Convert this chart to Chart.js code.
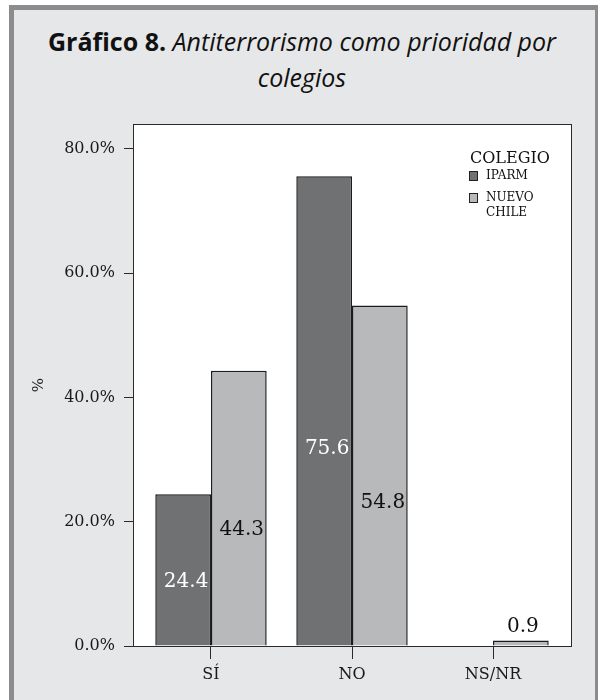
<!DOCTYPE html>
<html>
<head>
<meta charset="utf-8">
<script src="https://cdn.jsdelivr.net/npm/chart.js@4.4.1/dist/chart.umd.min.js"></script>
<style>
  body { margin: 0; background: #fff; }
  #frame {
    position: absolute; left: 9px; top: 5px; width: 591px; height: 700px;
    box-sizing: border-box; border: 5px solid #8c8c8e; background: #e6e7e8;
  }
  #title {
    position: absolute; left: 0; top: 23px; width: 604px; text-align: center;
    font-family: "Open Sans", sans-serif; font-size: 25px; line-height: 36px; color: #111;
  }
  #title b { font-weight: bold; }
  #title i { font-style: italic; }
  #wrap { position: absolute; left: 0; top: 0; width: 598px; height: 700px; }
</style>
</head>
<body>
<div id="frame"></div>
<div id="title"><b>Gráfico 8.</b> <i>Antiterrorismo como prioridad por<br>colegios</i></div>
<div id="wrap"><canvas id="chart"></canvas></div>
<script>
// data
var categories = ['SÍ', 'NO', 'NS/NR'];
var seriesNames = ['IPARM', 'NUEVO CHILE'];
var iparm = [24.4, 75.6, null];
var nuevoChile = [44.3, 54.8, 0.9];
var barColors = ['#707173', '#b8b9bb'];
var labelColors = ['#ffffff', '#111111'];

function toPoints(values) {
    return values.map(function (v, i) { return { x: i, y: v }; });
}

// white plot area + frame
var plotBox = {
    id: 'plotBox',
    beforeDraw: function (chart) {
        var a = chart.chartArea, c = chart.ctx;
        c.save();
        c.fillStyle = '#ffffff';
        c.fillRect(a.left, a.top, a.right - a.left, a.bottom - a.top);
        c.restore();
    },
    afterDraw: function (chart) {
        var a = chart.chartArea, c = chart.ctx;
        c.save();
        c.strokeStyle = '#2a2a2a';
        c.lineWidth = 1;
        c.strokeRect(Math.round(a.left) + 0.5, Math.round(a.top) + 0.5,
            Math.round(a.right - a.left), Math.round(a.bottom - a.top));
        c.restore();
    }
};

// value labels on bars
var barLabels = {
    id: 'barLabels',
    afterDatasetsDraw: function (chart) {
        var c = chart.ctx;
        c.save();
        c.font = '20px "DejaVu Serif"';
        c.textAlign = 'center';
        c.textBaseline = 'middle';
        chart.data.datasets.forEach(function (ds, di) {
            chart.getDatasetMeta(di).data.forEach(function (bar, i) {
                var v = ds.data[i].y;
                if (v === null) return;
                var h = bar.base - bar.y;
                if (h < 20) {
                    c.fillStyle = '#111111';
                    c.textBaseline = 'bottom';
                    c.fillText(v.toFixed(1), bar.x + 2, bar.y - 4);
                    c.textBaseline = 'middle';
                } else {
                    c.fillStyle = labelColors[di];
                    c.fillText(v.toFixed(1), bar.x + 3, bar.base - h * 0.42);
                }
            });
        });
        c.restore();
    }
};

// legend inside the plot, top right
var boxLegend = {
    id: 'boxLegend',
    afterDraw: function (chart) {
        var a = chart.chartArea, c = chart.ctx;
        var x = a.right - 102, y = a.top + 35;
        c.save();
        c.fillStyle = '#111111';
        c.textBaseline = 'middle';
        c.font = '16px "DejaVu Serif"';
        c.fillText('COLEGIO', x + 1, y);
        c.font = '12px "DejaVu Serif"';
        var rowY = y + 17;
        chart.data.datasets.forEach(function (ds, di) {
            c.fillStyle = ds.backgroundColor;
            c.fillRect(x + 0.5, rowY - 4.5, 8, 9);
            c.strokeStyle = '#222222';
            c.lineWidth = 1;
            c.strokeRect(x + 0.5, rowY - 4.5, 8, 9);
            c.fillStyle = '#111111';
            var lines = ds.label.split(' ');
            lines.forEach(function (t, li) {
                c.fillText(t, x + 17, rowY + li * 15);
            });
            rowY += 22;
        });
        c.restore();
    }
};

new Chart(document.getElementById('chart'), {
    type: 'bar',
    data: {
        datasets: [{
            label: seriesNames[0],
            data: toPoints(iparm),
            backgroundColor: barColors[0],
            borderColor: '#1c1c1c',
            borderWidth: 1.5,
            categoryPercentage: 0.79,
            barPercentage: 1.0
        }, {
            label: seriesNames[1],
            data: toPoints(nuevoChile),
            backgroundColor: barColors[1],
            borderColor: '#1c1c1c',
            borderWidth: 1.5,
            categoryPercentage: 0.79,
            barPercentage: 1.0
        }]
    },
    options: {
        responsive: true,
        maintainAspectRatio: false,
        animation: false,
        layout: { padding: { left: 0, top: 124, right: 27, bottom: 0 } },
        plugins: {
            legend: { display: false },
            tooltip: { enabled: false }
        },
        scales: {
            x: {
                type: 'linear',
                min: -0.553,
                max: 2.553,
                offset: false,
                border: { display: true, color: '#2a2a2a' },
                grid: { offset: false, drawOnChartArea: false, tickLength: 13, color: '#2a2a2a' },
                ticks: {
                    stepSize: 1,
                    includeBounds: false,
                    padding: 6,
                    color: '#1a1a1a',
                    font: { family: 'DejaVu Serif', size: 16 },
                    callback: function (v) { return categories[v]; }
                },
                afterFit: function (s) { s.height = 54; }
            },
            y: {
                min: 0,
                max: 84,
                border: { display: true, color: '#2a2a2a' },
                grid: { drawOnChartArea: false, tickLength: 9, color: '#2a2a2a' },
                ticks: {
                    stepSize: 20,
                    includeBounds: false,
                    padding: 9,
                    color: '#1a1a1a',
                    font: { family: 'DejaVu Serif', size: 16 },
                    callback: function (v) { return v.toFixed(1) + '%'; }
                },
                title: {
                    display: true,
                    text: '%',
                    color: '#1a1a1a',
                    font: { family: 'DejaVu Serif', size: 15 },
                    padding: { top: 30 }
                },
                afterFit: function (s) { s.width = 133; }
            }
        }
    },
    plugins: [plotBox, barLabels, boxLegend]
});
</script>
</body>
</html>
